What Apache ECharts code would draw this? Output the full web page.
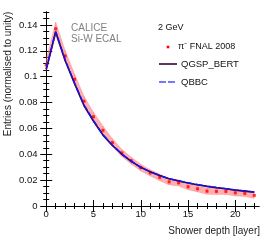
<!DOCTYPE html>
<html><head><meta charset="utf-8">
<script src="https://cdn.jsdelivr.net/npm/echarts@6/dist/echarts.min.js"></script>
<style>html,body{margin:0;padding:0;background:#fff}#c{width:274px;height:240px}</style>
</head><body><div id="c"></div>
<script>
const layers = [0,1,2,3,4,5,6,7,8,9,10,11,12,13,14,15,16,17,18,19,20,21,22];
const dataVals = [0.109,0.137,0.116,0.098,0.081,0.069,0.0585,0.049,0.041,0.035,0.0297,0.0256,0.0221,0.0187,0.0179,0.0149,0.0133,0.0115,0.0113,0.0113,0.0102,0.0097,0.0082];
const dataErr = [0.0045,0.005,0.0045,0.004,0.0038,0.0035,0.0033,0.003,0.0028,0.0027,0.0026,0.0025,0.0025,0.0024,0.0024,0.0024,0.0024,0.0024,0.0024,0.0024,0.0024,0.0024,0.0024];
const qgspVals = [0.1055,0.1345,0.1125,0.0945,0.0775,0.0655,0.0548,0.0468,0.0400,0.0345,0.0299,0.0264,0.0235,0.0210,0.0194,0.0178,0.0164,0.0152,0.0142,0.0133,0.0123,0.0115,0.0107];
const qbbcVals = [0.106,0.135,0.113,0.095,0.078,0.066,0.055,0.047,0.0402,0.0346,0.0298,0.0264,0.0236,0.0211,0.0195,0.0179,0.0165,0.0153,0.0143,0.0134,0.0124,0.0116,0.0108];
const xMajorTicks = [0,5,10,15,20];
const xMinorTicks = [0,1,2,3,4,5,6,7,8,9,10,11,12,13,14,15,16,17,18,19,20,21,22];
const yMajorTicks = [0,0.02,0.04,0.06,0.08,0.1,0.12,0.14];
const yMinorTicks = [0,0.005,0.01,0.015,0.02,0.025,0.03,0.035,0.04,0.045,0.05,0.055,0.06,0.065,0.07,0.075,0.08,0.085,0.09,0.095,0.1,0.105,0.11,0.115,0.12,0.125,0.13,0.135,0.14,0.145,0.15];

const FONT = 'Liberation Sans, Arial, sans-serif';
const chart = echarts.init(document.getElementById('c'), null, {renderer:'canvas'});

function xAx(pos, ticks, len, labels, line){
  return {type:'value', position:pos, min:-0.5, max:22.5,
    axisLine:{show:line, lineStyle:{color:'#000', width:1}},
    axisTick:{show:true, inside:true, length:len, customValues:ticks, lineStyle:{color:'#000', width:1}},
    axisLabel:{show:labels, customValues:xMajorTicks, fontSize:9.5, color:'#111', fontFamily:FONT, margin:3},
    splitLine:{show:false}};
}
function yAx(pos, ticks, len, labels, line){
  return {type:'value', position:pos, min:0, max:0.15,
    axisLine:{show:line, lineStyle:{color:'#000', width:1}},
    axisTick:{show:true, inside:true, length:len, customValues:ticks, lineStyle:{color:'#000', width:1}},
    axisLabel:{show:labels, customValues:yMajorTicks, fontSize:9.5, color:'#111', fontFamily:FONT, margin:4},
    splitLine:{show:false}};
}

// error band: one trapezoid per interval between consecutive layers
const bandData = layers.slice(0, -1).map((x,i)=>[x, dataVals[i]-dataErr[i], dataVals[i]+dataErr[i],
  layers[i+1], dataVals[i+1]-dataErr[i+1], dataVals[i+1]+dataErr[i+1]]);

chart.setOption({
  animation:false,
  backgroundColor:'#fff',
  grid:{left:41.5, right:15, top:12, bottom:34, containLabel:false},
  xAxis:[xAx('bottom', xMajorTicks, 6, true, true), xAx('bottom', xMinorTicks, 3, false, false),
         xAx('top', xMajorTicks, 6, false, true), xAx('top', xMinorTicks, 3, false, false)],
  yAxis:[yAx('left', yMajorTicks, 6, true, true), yAx('left', yMinorTicks, 3, false, false),
         yAx('right', yMajorTicks, 6, false, true), yAx('right', yMinorTicks, 3, false, false)],
  series:[
    {type:'custom', data:bandData, silent:true, clip:true,
     encode:{x:[0,3], y:[1,2,4,5]},
     renderItem:function(params, api){
       const a = api.coord([api.value(0), api.value(1)]);
       const b = api.coord([api.value(0), api.value(2)]);
       const c = api.coord([api.value(3), api.value(5)]);
       const d = api.coord([api.value(3), api.value(4)]);
       return {type:'polygon', shape:{points:[a,b,c,d]}, style:{fill:'rgba(255,110,110,0.55)', stroke:'rgba(255,110,110,0.55)', lineWidth:0.5}};
     }},
    {type:'line', data:layers.map((x,i)=>[x,qgspVals[i]]), symbol:'none',
     lineStyle:{color:'#3a003a', width:1.6}},
    {type:'line', data:layers.map((x,i)=>[x,qbbcVals[i]]), symbol:'none',
     lineStyle:{color:'#1515ee', width:1.6, type:[7,2]}},
    {type:'scatter', data:layers.map((x,i)=>[x,dataVals[i]]), symbol:'rect', symbolSize:3,
     itemStyle:{color:'#ff0000'}}
  ],
  graphic:[
    {type:'text', x:8, y:74, rotation:Math.PI/2, style:{text:'Entries (normalised to unity)', fontSize:10, fontFamily:FONT, fill:'#222', align:'center', verticalAlign:'middle'}},
    {type:'text', x:260, y:231, style:{text:'Shower depth [layer]', fontSize:10, fontFamily:FONT, fill:'#222', align:'right', verticalAlign:'middle'}},
    {type:'text', x:71, y:28, style:{text:'CALICE', fontSize:10, fontFamily:FONT, fill:'#808080', align:'left', verticalAlign:'middle'}},
    {type:'text', x:71, y:39, style:{text:'Si-W ECAL', fontSize:10, fontFamily:FONT, fill:'#808080', align:'left', verticalAlign:'middle'}},
    {type:'text', x:158, y:28, style:{text:'2 GeV', fontSize:9, fontFamily:FONT, fill:'#111', align:'left', verticalAlign:'middle'}},
    {type:'rect', shape:{x:166.7, y:45.7, width:2.6, height:2.6}, style:{fill:'#ff0000'}},
    {type:'text', x:178, y:47, style:{text:'π⁻ FNAL 2008', fontSize:9, fontFamily:FONT, fill:'#111', align:'left', verticalAlign:'middle'}},
    {type:'line', shape:{x1:159, y1:64, x2:177, y2:64}, style:{stroke:'#3a003a', lineWidth:1.6}},
    {type:'text', x:181, y:64, style:{text:'QGSP_BERT', fontSize:9.5, fontFamily:FONT, fill:'#111', align:'left', verticalAlign:'middle'}},
    {type:'line', shape:{x1:159, y1:82, x2:177, y2:82}, style:{stroke:'#4a4aff', lineWidth:1.6, lineDash:[7,2]}},
    {type:'text', x:181, y:82, style:{text:'QBBC', fontSize:9.5, fontFamily:FONT, fill:'#111', align:'left', verticalAlign:'middle'}}
  ]
});
</script></body></html>
